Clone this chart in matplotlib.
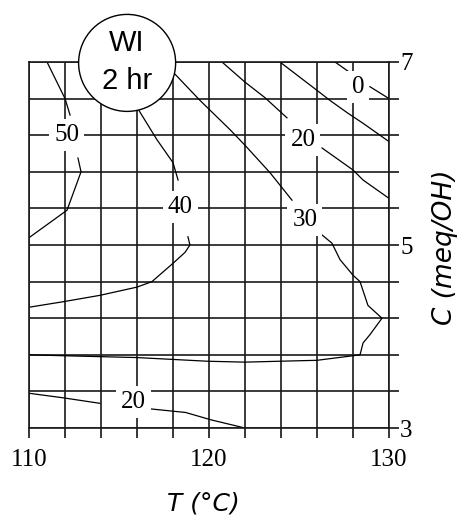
import numpy as np
import matplotlib.pyplot as plt
from matplotlib.patches import Ellipse

# -----------------------------------
# Contour lines (T in deg C, C in meq/OH)
# each labelled contour is split in two around its label
# -----------------------------------

c50_a_x = [111.0, 112.0, 112.28]
c50_a_y = [7.0, 6.60, 6.42]
c50_b_x = [112.72, 112.89, 112.11, 110.0]
c50_b_y = [5.95, 5.80, 5.38, 5.08]

c40_a_x = [115.6, 116.17, 117.11, 118.0, 118.28]
c40_a_y = [6.64, 6.45, 6.15, 5.90, 5.71]
c40_b_x = [118.83, 118.94, 118.67, 118.0, 116.83, 116.0, 113.94, 111.89, 110.0]
c40_b_y = [5.09, 5.0, 4.92, 4.80, 4.60, 4.54, 4.45, 4.38, 4.32]

c30_a_x = [117.4, 118.0, 119.5, 121.17, 122.0, 123.39, 124.61]
c30_a_y = [7.0, 6.89, 6.58, 6.26, 6.09, 5.79, 5.49]
c30_b_x = [126.28, 126.83, 127.28, 128.0, 128.39, 128.83, 129.61, 128.94,
           128.56, 128.39, 128.0, 126.0, 123.94, 122.0, 119.9, 116.0, 111.9, 110.0]
c30_b_y = [5.11, 5.02, 4.84, 4.67, 4.60, 4.34, 4.20, 4.02,
           3.93, 3.80, 3.79, 3.74, 3.73, 3.72, 3.73, 3.77, 3.79, 3.80]

c20_a_x = [120.72, 122.0, 123.11, 124.33]
c20_a_y = [7.0, 6.78, 6.61, 6.39]
c20_b_x = [126.28, 128.0, 128.56, 130.0]
c20_b_y = [6.06, 5.82, 5.71, 5.51]

c10_x = [123.94, 126.0, 126.72, 127.72, 128.56, 130.0]
c10_y = [7.0, 6.69, 6.58, 6.44, 6.33, 6.13]

c0_a_x = [127.0, 127.72]
c0_a_y = [7.0, 6.90]
c0_b_x = [128.94, 130.0]
c0_b_y = [6.73, 6.60]

c20low_a_x = [110.0, 111.9, 113.94]
c20low_a_y = [3.38, 3.33, 3.27]
c20low_b_x = [116.7, 118.7, 120.1, 122.0]
c20low_b_y = [3.21, 3.17, 3.09, 3.0]

label_text = ["50", "40", "30", "20", "0", "20"]
label_x = [112.11, 118.39, 125.33, 125.22, 128.28, 115.8]
label_y = [6.20, 5.42, 5.27, 6.15, 6.73, 3.28]

x_ticks = np.arange(110, 131, 2)
y_ticks = np.round(np.arange(3, 7.01, 0.4), 1)
x_tick_labels = ["110" if t == 110 else "120" if t == 120 else "130" if t == 130 else "" for t in x_ticks]
y_tick_labels = ["3" if t == 3 else "5" if t == 5 else "7" if t == 7 else "" for t in y_ticks]

# -----------------------------------
# Plot
# -----------------------------------

fig = plt.figure(figsize=(4.57, 5.17), dpi=100)
ax = fig.add_axes([0.0635, 0.1721, 0.7877, 0.708])

lines = [
    (c50_a_x, c50_a_y), (c50_b_x, c50_b_y),
    (c40_a_x, c40_a_y), (c40_b_x, c40_b_y),
    (c30_a_x, c30_a_y), (c30_b_x, c30_b_y),
    (c20_a_x, c20_a_y), (c20_b_x, c20_b_y),
    (c10_x, c10_y),
    (c0_a_x, c0_a_y), (c0_b_x, c0_b_y),
    (c20low_a_x, c20low_a_y), (c20low_b_x, c20low_b_y),
]
for xs, ys in lines:
    ax.plot(xs, ys, color="black", lw=0.9, zorder=2)

for txt, lx, ly in zip(label_text, label_x, label_y):
    ax.text(lx, ly, txt, fontsize=18, family="Liberation Serif",
            ha="center", va="center", zorder=4,
            bbox=dict(boxstyle="square,pad=0.2", fc="white", ec="none"))

ax.set_xlim(110, 130)
ax.set_ylim(3, 7)
ax.set_xticks(x_ticks)
ax.set_xticklabels(x_tick_labels, family="Liberation Serif")
ax.set_yticks(y_ticks)
ax.set_yticklabels(y_tick_labels, family="Liberation Serif")
ax.yaxis.tick_right()
ax.tick_params(axis="both", direction="out", length=7, width=1.1, color="black",
               labelsize=18)
ax.tick_params(axis="x", pad=8)
ax.tick_params(axis="y", pad=1)
ax.grid(True, color="#1a1a1a", lw=1.2)
ax.set_axisbelow(True)
for s in ax.spines.values():
    s.set_linewidth(1.2)
    s.set_color("#1a1a1a")

# WI 2 hr circle sitting on the top edge
circ = Ellipse((115.45, 6.99), 5.39, 1.06, transform=ax.transData,
               fc="white", ec="black", lw=1.0, clip_on=False, zorder=6)
ax.add_patch(circ)
ax.text(115.45, 7.21, "WI", fontsize=21, family="Liberation Sans",
        ha="center", va="center", zorder=7, clip_on=False)
ax.text(115.45, 6.79, "2 hr", fontsize=21, family="Liberation Sans",
        ha="center", va="center", zorder=7, clip_on=False)

fig.text(203 / 457, 1 - 504 / 517, "T (°C)", fontsize=18, style="italic",
         family="DejaVu Sans", ha="center", va="center")
fig.text(445 / 457, 1 - 247 / 517, "C (meq/OH)", fontsize=19, style="italic",
         family="DejaVu Sans", ha="center", va="center", rotation=90)

plt.savefig("out.png", dpi=100)
